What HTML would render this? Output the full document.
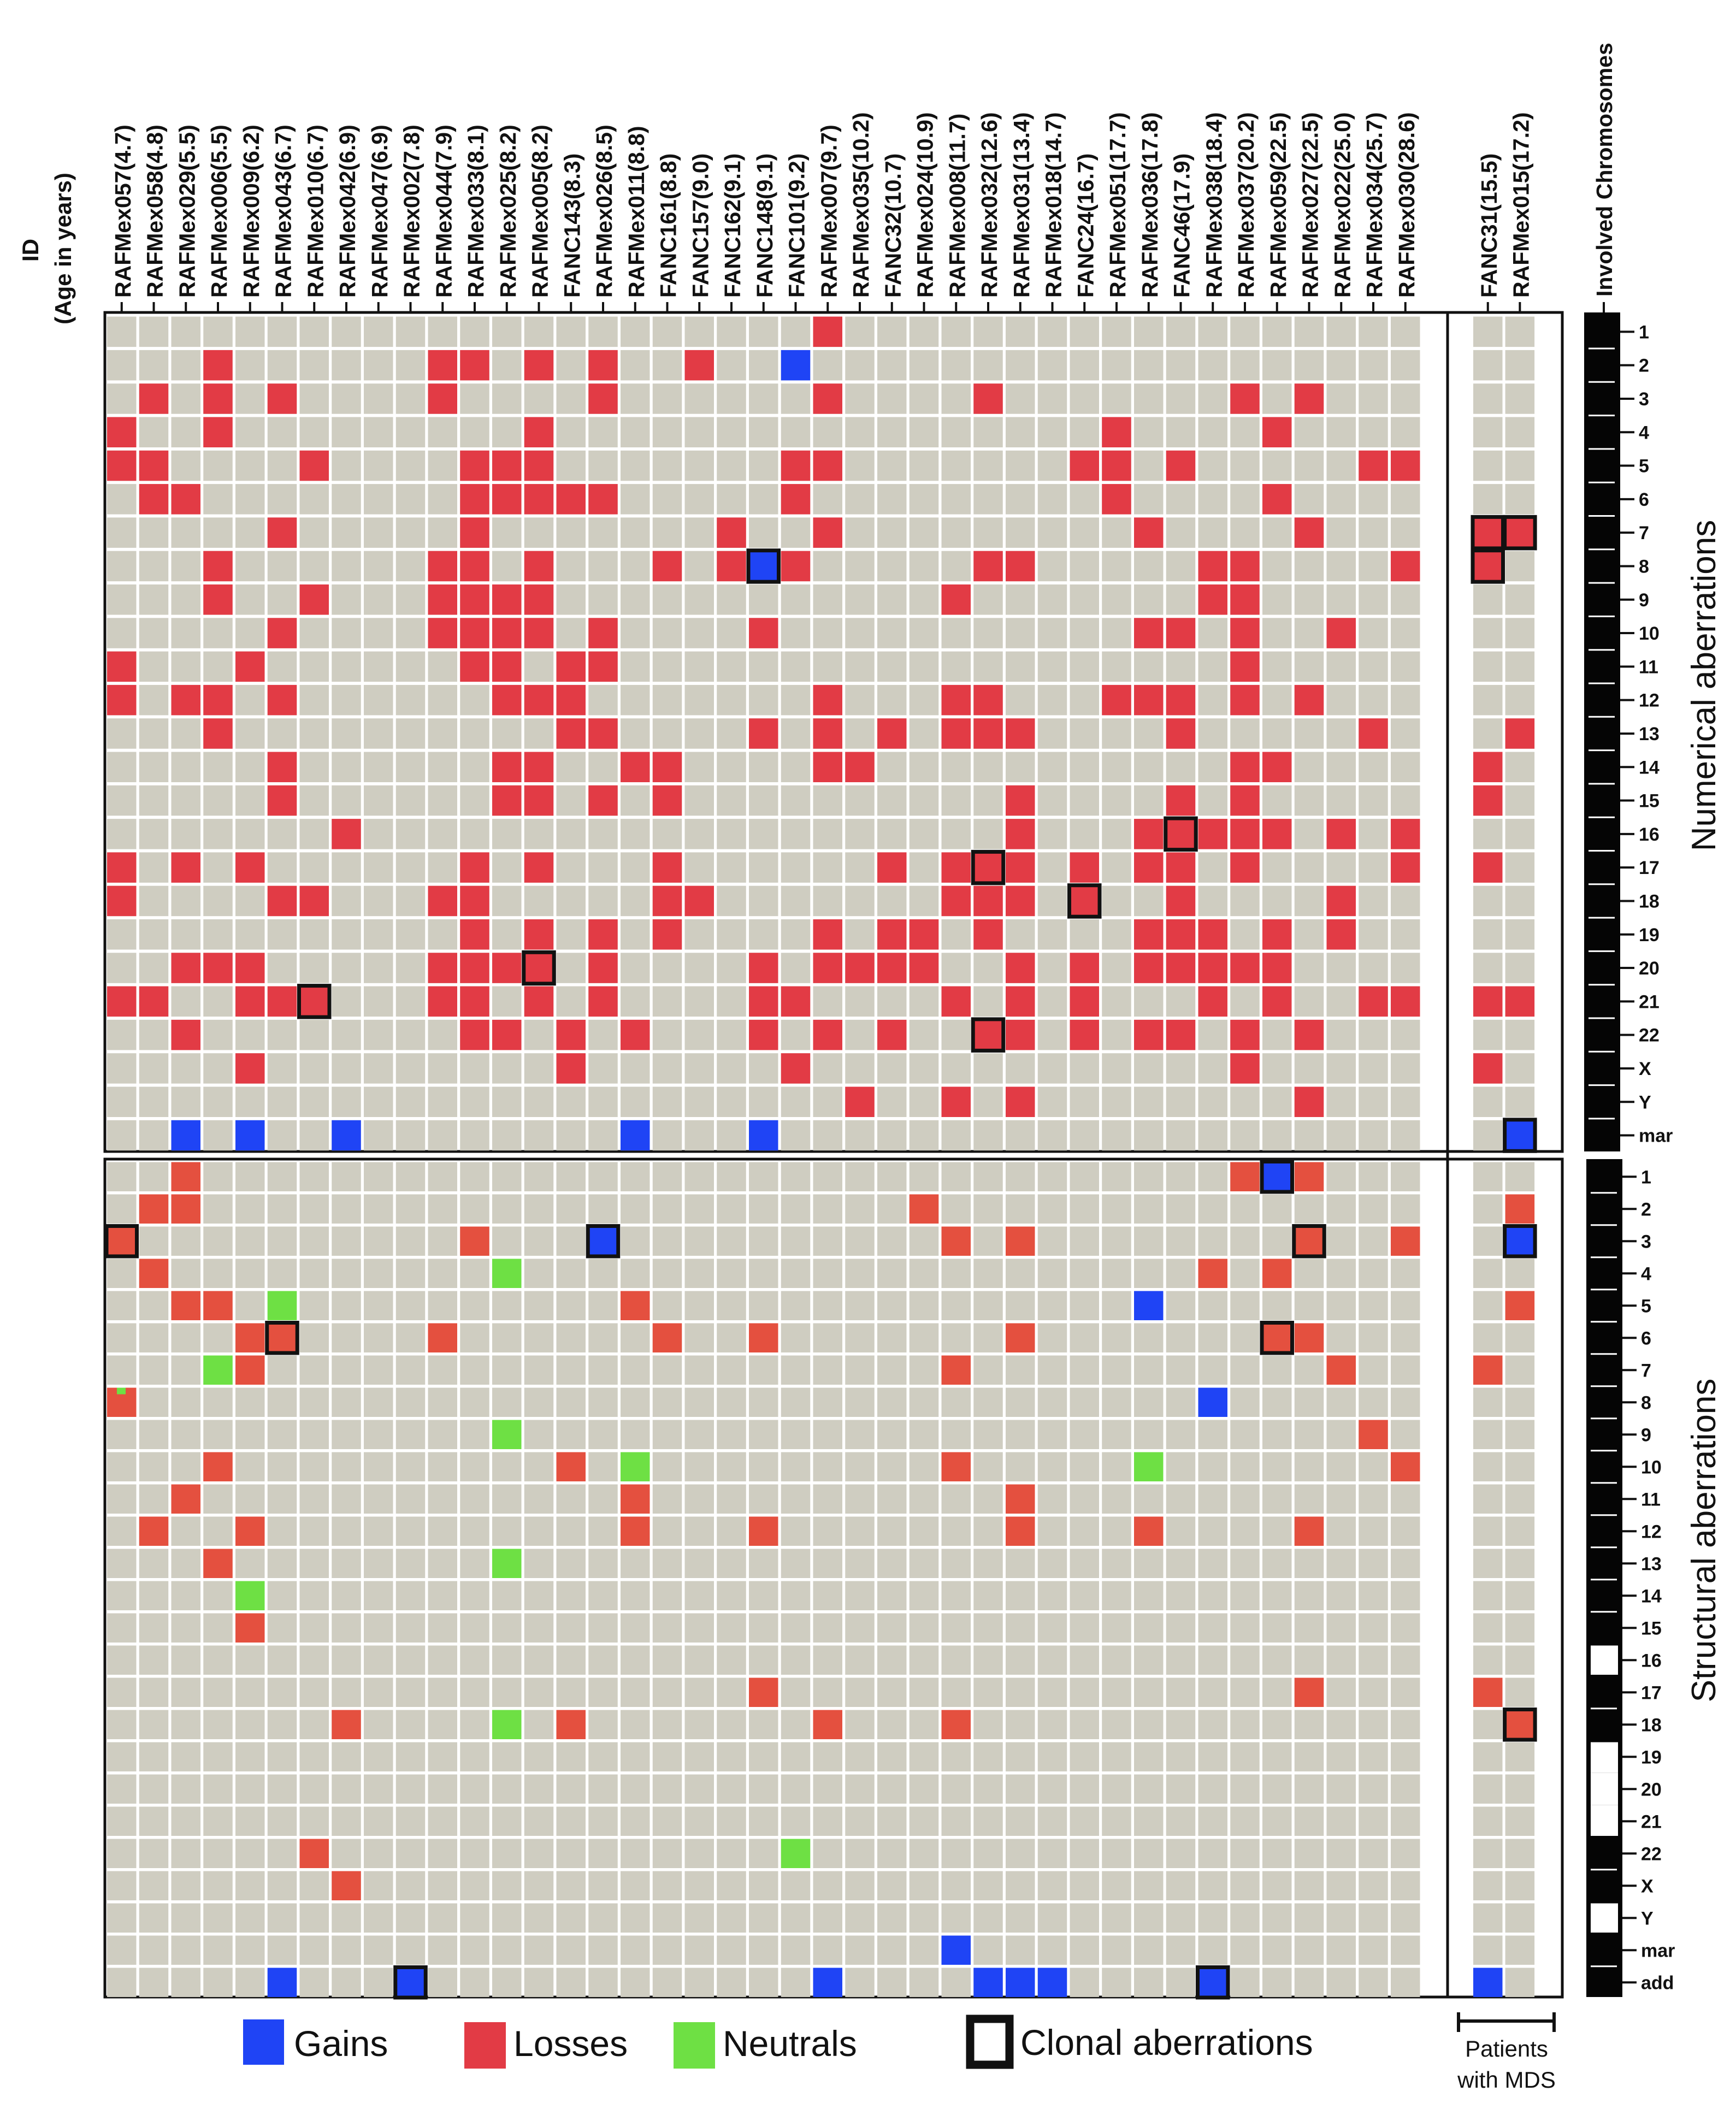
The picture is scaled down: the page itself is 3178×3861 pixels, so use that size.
<!DOCTYPE html>
<html><head><meta charset="utf-8">
<style>
html,body{margin:0;padding:0;background:#fff;}
svg{display:block;font-family:"Liberation Sans",Arial,sans-serif;}
</style></head>
<body>
<svg id="chart" xmlns="http://www.w3.org/2000/svg" width="3178" height="3861" viewBox="0 0 3178 3861">
<rect x="0" y="0" width="3178" height="3861" fill="#fff"/>
<g id="layer"></g>
</svg>
<script>
const patients = ["RAFMex057(4.7)","RAFMex058(4.8)","RAFMex029(5.5)","RAFMex006(5.5)","RAFMex009(6.2)","RAFMex043(6.7)","RAFMex010(6.7)","RAFMex042(6.9)","RAFMex047(6.9)","RAFMex002(7.8)","RAFMex044(7.9)","RAFMex033(8.1)","RAFMex025(8.2)","RAFMex005(8.2)","FANC143(8.3)","RAFMex026(8.5)","RAFMex011(8.8)","FANC161(8.8)","FANC157(9.0)","FANC162(9.1)","FANC148(9.1)","FANC101(9.2)","RAFMex007(9.7)","RAFMex035(10.2)","FANC32(10.7)","RAFMex024(10.9)","RAFMex008(11.7)","RAFMex032(12.6)","RAFMex031(13.4)","RAFMex018(14.7)","FANC24(16.7)","RAFMex051(17.7)","RAFMex036(17.8)","FANC46(17.9)","RAFMex038(18.4)","RAFMex037(20.2)","RAFMex059(22.5)","RAFMex027(22.5)","RAFMex022(25.0)","RAFMex034(25.7)","RAFMex030(28.6)"];
const mdsPatients = ["FANC31(15.5)","RAFMex015(17.2)"];
const numRows = ["1","2","3","4","5","6","7","8","9","10","11","12","13","14","15","16","17","18","19","20","21","22","X","Y","mar"];
const strRows = ["1","2","3","4","5","6","7","8","9","10","11","12","13","14","15","16","17","18","19","20","21","22","X","Y","mar","add"];
const strInvolved = [1,1,1,1,1,1,1,1,1,1,1,1,1,1,1,0,1,1,0,0,0,1,1,0,1,1];

const numLoss = [["1",23],["2",4],["2",11],["2",12],["2",14],["2",16],["2",19],
["3",2],["3",4],["3",6],["3",11],["3",16],["3",23],["3",28],["3",36],["3",38],
["4",1],["4",4],["4",14],["4",32],["4",37],
["5",1],["5",2],["5",7],["5",12],["5",13],["5",14],["5",22],["5",23],["5",31],["5",32],["5",34],["5",40],["5",41],
["6",2],["6",3],["6",12],["6",13],["6",14],["6",15],["6",16],["6",22],["6",32],["6",37],
["7",6],["7",12],["7",20],["7",23],["7",33],["7",38],
["8",4],["8",11],["8",12],["8",14],["8",18],["8",20],["8",22],["8",28],["8",29],["8",35],["8",36],["8",41],
["9",4],["9",7],["9",11],["9",12],["9",13],["9",14],["9",27],["9",35],["9",36],
["10",6],["10",11],["10",12],["10",13],["10",14],["10",16],["10",21],["10",33],["10",34],["10",36],["10",39],
["11",1],["11",5],["11",12],["11",13],["11",15],["11",16],["11",36],
["12",1],["12",3],["12",4],["12",6],["12",13],["12",14],["12",15],["12",23],["12",27],["12",28],["12",32],["12",33],["12",34],["12",36],["12",38],
["13",4],["13",15],["13",16],["13",21],["13",23],["13",25],["13",27],["13",28],["13",29],["13",34],["13",40],
["14",6],["14",13],["14",14],["14",17],["14",18],["14",23],["14",24],["14",36],["14",37],
["15",6],["15",13],["15",14],["15",16],["15",18],["15",29],["15",34],["15",36],
["16",8],["16",29],["16",33],["16",34],["16",35],["16",36],["16",37],["16",39],["16",41],
["17",1],["17",3],["17",5],["17",12],["17",14],["17",18],["17",25],["17",27],["17",28],["17",29],["17",31],["17",33],["17",34],["17",36],["17",41],
["18",1],["18",6],["18",7],["18",11],["18",12],["18",18],["18",19],["18",27],["18",28],["18",29],["18",31],["18",34],["18",39],
["19",12],["19",14],["19",16],["19",18],["19",23],["19",25],["19",26],["19",28],["19",33],["19",34],["19",35],["19",37],["19",39],
["20",3],["20",4],["20",5],["20",11],["20",12],["20",13],["20",14],["20",16],["20",21],["20",23],["20",24],["20",25],["20",26],["20",29],["20",31],["20",33],["20",34],["20",35],["20",36],["20",37],
["21",1],["21",2],["21",5],["21",6],["21",7],["21",11],["21",12],["21",14],["21",16],["21",21],["21",22],["21",27],["21",29],["21",31],["21",35],["21",37],["21",40],["21",41],
["22",3],["22",12],["22",13],["22",15],["22",17],["22",21],["22",23],["22",25],["22",28],["22",29],["22",31],["22",33],["22",34],["22",36],["22",38],
["X",5],["X",15],["X",22],["X",36],
["Y",24],["Y",27],["Y",29],["Y",38]];
const numGain = [["2",22],["8",21],["mar",3],["mar",5],["mar",8],["mar",17],["mar",21]];
const numClonal = [["8",21],["20",14],["21",7],["16",34],["17",28],["18",31],["22",28]];
const mdsNumLoss = [["7",1],["8",1],["14",1],["15",1],["17",1],["21",1],["X",1],["7",2],["13",2],["21",2]];
const mdsNumGain = [["mar",2]];
const mdsNumClonal = [["7",1],["8",1],["7",2],["mar",2]];

const strLoss = [["1",3],["1",36],["1",38],["2",2],["2",3],["2",26],
["3",1],["3",12],["3",27],["3",29],["3",38],["3",41],
["4",2],["4",35],["4",37],["5",3],["5",4],["5",17],
["6",5],["6",6],["6",11],["6",18],["6",21],["6",29],["6",37],["6",38],
["7",5],["7",27],["7",39],["8",1],["9",40],
["10",4],["10",15],["10",27],["10",41],["11",3],["11",17],["11",29],
["12",2],["12",5],["12",17],["12",21],["12",29],["12",33],["12",38],
["13",4],["15",5],["17",21],["17",38],["18",8],["18",15],["18",23],["18",27],["22",7],["X",8]];
const strGain = [["1",37],["3",16],["5",33],["8",35],["mar",27],["add",6],["add",10],["add",23],["add",28],["add",29],["add",30],["add",35]];
const strNeutral = [["4",13],["5",6],["7",4],["9",13],["10",17],["10",33],["13",13],["14",5],["18",13],["22",22]];
const strClonal = [["1",37],["3",1],["3",16],["3",38],["6",6],["6",37],["add",10],["add",35]];
const mdsStrLoss = [["7",1],["17",1],["2",2],["5",2],["18",2]];
const mdsStrGain = [["add",1],["3",2]];
const mdsStrClonal = [["3",2],["18",2]];

const NS = "http://www.w3.org/2000/svg";
const layer = document.getElementById('layer');
function mk(tag, attrs, parent){ const e=document.createElementNS(NS,tag); for(const k in attrs) e.setAttribute(k,attrs[k]); (parent||layer).appendChild(e); return e; }

const X0=196, PITCH=58.75, CW=53.5;
const MDSX0=2697, MDSP=58.6;
const TOPY0=579.6, TOPP=61.3, TOPH=55.5;
const BOTY0=2127.5, BOTP=59.0, BOTH=53.5;
function xCol(c){ return X0+(c-1)*PITCH; }
function xMds(c){ return MDSX0+(c-1)*MDSP; }
function yTop(r){ return TOPY0+numRows.indexOf(r)*TOPP; }
function yBot(r){ return BOTY0+strRows.indexOf(r)*BOTP; }

const GRAY="#cfcdc1", RED_T="#e23b45", RED_B="#e4503f", BLUE="#1f44f5", GREEN="#6ee044";

let fr=mk('rect',{x:192,y:572,width:2668,height:1536,fill:'#fff',stroke:'#111','stroke-width':5});
 
fr=mk('rect',{x:192,y:2122,width:2668,height:1534,fill:'#fff',stroke:'#111','stroke-width':5});
 
mk('line',{x1:2650,y1:572,x2:2650,y2:3656,stroke:'#111','stroke-width':5});

function bgCells(xs,n,ys,h,pitch,y0,name){
  for(let c=1;c<=n;c++) for(let r=0;r<ys;r++){
    const e=mk('rect',{x:xs(c),y:y0+r*pitch,width:CW,height:h,fill:GRAY});
    
    
  }
}
bgCells(xCol,patients.length,numRows.length,TOPH,TOPP,TOPY0,'numerical');
bgCells(xMds,mdsPatients.length,numRows.length,TOPH,TOPP,TOPY0,'mds-numerical');
bgCells(xCol,patients.length,strRows.length,BOTH,BOTP,BOTY0,'structural');
bgCells(xMds,mdsPatients.length,strRows.length,BOTH,BOTP,BOTY0,'mds-structural');

function marks(arr,xf,yf,h,color,name){
  arr.forEach(([r,c])=>{
    const e=mk('rect',{x:xf(c),y:yf(r),width:CW,height:h,fill:color});
    
    
  });
}
function clonal(arr,xf,yf,h){
  arr.forEach(([r,c])=>{
    const e=mk('rect',{x:xf(c)-1,y:yf(r)-1,width:CW+2,height:h+2,fill:'none',stroke:'#111','stroke-width':7});
    
    
  });
}
marks(numLoss,xCol,yTop,TOPH,RED_T,'numerical-loss');
marks(numGain,xCol,yTop,TOPH,BLUE,'numerical-gain');
marks(mdsNumLoss,xMds,yTop,TOPH,RED_T,'mds-numerical-loss');
marks(mdsNumGain,xMds,yTop,TOPH,BLUE,'mds-numerical-gain');
marks(strLoss,xCol,yBot,BOTH,RED_B,'structural-loss');
marks(strGain,xCol,yBot,BOTH,BLUE,'structural-gain');
marks(strNeutral,xCol,yBot,BOTH,GREEN,'structural-neutral');
marks(mdsStrLoss,xMds,yBot,BOTH,RED_B,'mds-structural-loss');
marks(mdsStrGain,xMds,yBot,BOTH,BLUE,'mds-structural-gain');
let ins=mk('rect',{x:xCol(1)+18,y:yBot("8"),width:16,height:12,fill:GREEN});
 
clonal(numClonal,xCol,yTop,TOPH);
clonal(mdsNumClonal,xMds,yTop,TOPH);
clonal(strClonal,xCol,yBot,BOTH);
clonal(mdsStrClonal,xMds,yBot,BOTH);

function colLabel(label,cx){
  mk('line',{x1:cx,y1:553,x2:cx,y2:573,stroke:'#111','stroke-width':4});
  const t=mk('text',{x:0,y:0,transform:`translate(${cx+16},545) rotate(-90)`,'font-size':41,'font-weight':'bold',fill:'#111'});
  t.textContent=label;
  
  
}
patients.forEach((p,i)=>colLabel(p,xCol(i+1)+CW/2));
mdsPatients.forEach((p,i)=>colLabel(p,xMds(i+1)+CW/2));

function chromBar(rows,yf,pitch,h,x,top,bottom,involved,prefix){
  const b=mk('rect',{x:x,y:top,width:66,height:bottom-top,fill:'#050505'});
  
  
  rows.forEach((r,i)=>{
    const y=yf(r);
    const white = involved && !involved[i];
    if(white){
      const prevWhite = i>0 && !involved[i-1];
      const nextWhite = i<rows.length-1 && !involved[i+1];
      const gap=(pitch-h)/2;
      const y1 = prevWhite ? y-gap : y;
      const y2 = nextWhite ? y+h+gap : y+h;
      const w=mk('rect',{x:x+8,y:y1,width:50,height:y2-y1,fill:'#fff'});
      
      
    }
    if(i>0 && !(involved && (!involved[i] || !involved[i-1])))
      mk('line',{x1:x+8,y1:y-(pitch-h)/2,x2:x+56,y2:y-(pitch-h)/2,stroke:'#fff','stroke-width':3});
    const cy=y+h/2;
    mk('line',{x1:x+66,y1:cy,x2:x+92,y2:cy,stroke:'#111','stroke-width':4});
    const t=mk('text',{x:x+100,y:cy+12,'font-size':34,'font-weight':'bold',fill:'#111'});
    t.textContent=r;
    
    
  });
}
chromBar(numRows,yTop,TOPP,TOPH,2900,572,2108,null,'numerical');
chromBar(strRows,yBot,BOTP,BOTH,2904,2122,3656,strInvolved,'structural');
mk('line',{x1:2936,y1:553,x2:2936,y2:572,stroke:'#111','stroke-width':4});
</script>

<svg style="position:absolute;left:0;top:0" width="3178" height="3861" xmlns="http://www.w3.org/2000/svg">
<text transform="translate(70,458) rotate(-90)" text-anchor="middle" font-family="Liberation Sans" font-weight="bold" font-size="42" fill="#111">ID</text>
<text transform="translate(130,455) rotate(-90)" text-anchor="middle" font-family="Liberation Sans" font-weight="bold" font-size="42" fill="#111">(Age in years)</text>
<text transform="translate(2951,543) rotate(-90)" font-family="Liberation Sans" font-weight="bold" font-size="41" fill="#111">Involved Chromosomes</text>
<text transform="translate(3140,1255) rotate(-90)" text-anchor="middle" font-family="Liberation Sans" font-size="62" fill="#111">Numerical aberrations</text>
<text transform="translate(3140,2820) rotate(-90)" text-anchor="middle" font-family="Liberation Sans" font-size="62" fill="#111">Structural aberrations</text>
<g font-family="Liberation Sans" font-size="66" fill="#111">
<rect x="445" y="3697" width="75" height="83" fill="#1f44f5"/>
<text x="538" y="3764">Gains</text>
<rect x="850" y="3702" width="76" height="85" fill="#e23b45"/>
<text x="940" y="3764">Losses</text>
<rect x="1233" y="3702" width="76" height="85" fill="#6ee044"/>
<text x="1323" y="3764">Neutrals</text>
<rect x="1776" y="3696" width="72" height="84" fill="#fff" stroke="#111" stroke-width="15"/>
<text x="1868" y="3762">Clonal aberrations</text>
</g>
<g stroke="#111" stroke-width="6">
<line x1="2670" y1="3700" x2="2845" y2="3700"/>
<line x1="2670" y1="3684" x2="2670" y2="3720"/>
<line x1="2845" y1="3684" x2="2845" y2="3720"/>
</g>
<text x="2758" y="3765" text-anchor="middle" font-family="Liberation Sans" font-size="42" fill="#111">Patients</text>
<text x="2758" y="3822" text-anchor="middle" font-family="Liberation Sans" font-size="42" fill="#111">with MDS</text>
</svg>
</body></html>
